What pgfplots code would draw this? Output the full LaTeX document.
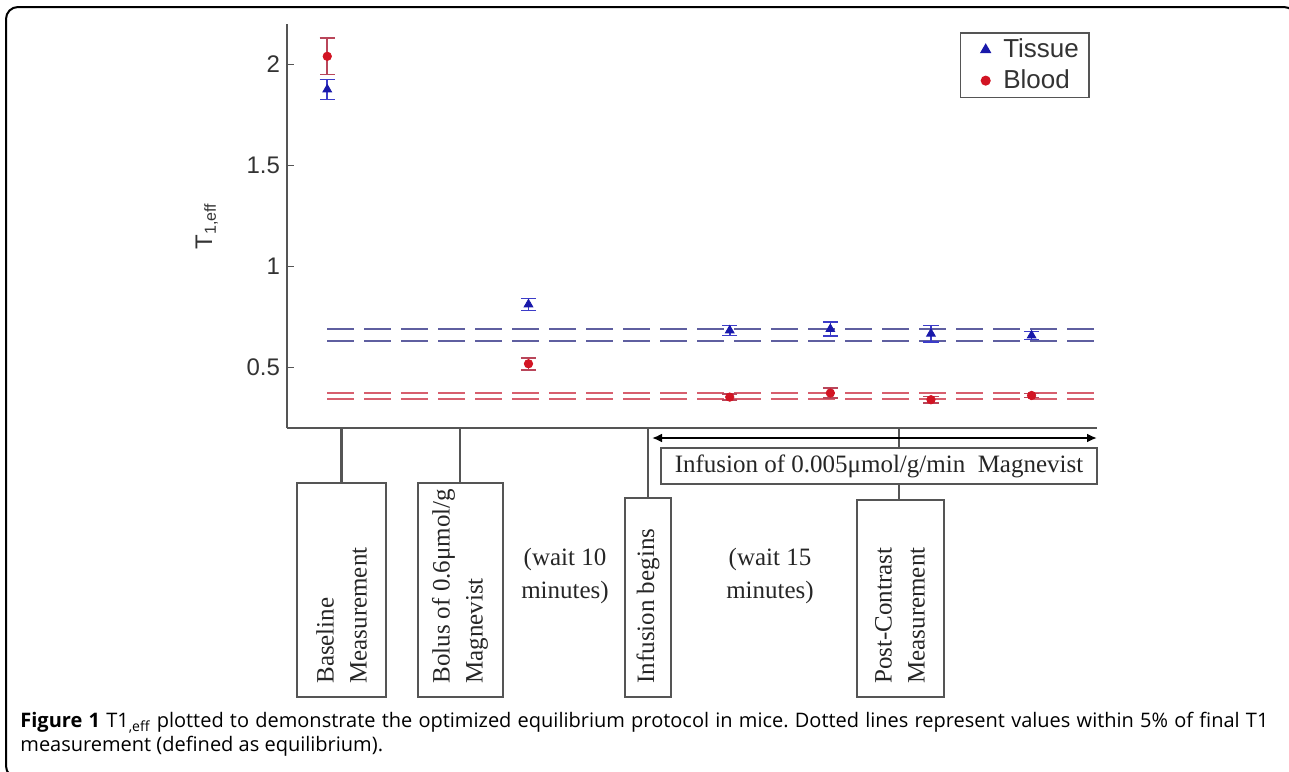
\documentclass[border=0pt]{standalone}
\usepackage{fontspec}
\setmainfont{Liberation Serif}
\setsansfont{Liberation Sans}
\newfontfamily\capfont{Open Sans}
\usepackage{pgfplots}
\pgfplotsset{compat=1.18}
\usetikzlibrary{arrows.meta}
\definecolor{tblue}{RGB}{25,25,170}
\definecolor{tebar}{RGB}{60,60,200}
\definecolor{bred}{RGB}{210,20,35}
\definecolor{bebar}{RGB}{185,70,90}
\definecolor{dblue}{RGB}{95,95,160}
\definecolor{dred}{RGB}{215,95,110}
\definecolor{axgray}{RGB}{85,85,85}
\begin{document}
\frenchspacing
\begin{tikzpicture}
\begin{scope}[x=0.5pt,y=-0.5pt]
\useasboundingbox (0,0) rectangle (1289,771);
\begin{scope}
\clip (0,0) rectangle (1289,771);
\draw[line width=1pt, rounded corners=6pt] (1296,19) -- (1296,7) -- (6,7) -- (6,778) -- (20,778);
\end{scope}
% connectors
\draw[axgray, line width=1.1pt] (341.5,428) -- (341.5,483);
\draw[axgray, line width=1.1pt] (460,428) -- (460,483);
\draw[axgray, line width=1.1pt] (648,428) -- (648,498);
\draw[axgray, line width=1.1pt] (899,428) -- (899,500);
% boxes
\draw[axgray, line width=1.1pt, fill=white] (297,483) rectangle (386,697);
\draw[axgray, line width=1.1pt, fill=white] (418,483) rectangle (503,697);
\draw[axgray, line width=1.1pt, fill=white] (625,498) rectangle (671,697);
\draw[axgray, line width=1.1pt, fill=white] (857,500) rectangle (944,697);
\draw[axgray, line width=1.1pt, fill=white] (661,448) rectangle (1097,484);
\draw[black, line width=1.4pt, {Latex[length=5pt,width=4.5pt]}-{Latex[length=5pt,width=4.5pt]}] (652,438) -- (1097,438);
% texts
\tikzset{dtext/.style={inner sep=0pt, font=\fontsize{12.5}{16.5}\selectfont, text=black!85}}
\node[dtext, rotate=90, anchor=west, align=left] at (341.5,684) {Baseline\\Measurement};
\node[dtext, rotate=90, anchor=west, align=left] at (460,684) {Bolus of 0.6μmol/g\\Magnevist};
\node[dtext, rotate=90, anchor=west, align=left] at (648,684) {Infusion begins};
\node[dtext, rotate=90, anchor=west, align=left] at (900,684) {Post-Contrast\\Measurement};
\node[dtext, align=center] at (565,576) {(wait 10\\minutes)};
\node[dtext, align=center] at (770,576) {(wait 15\\minutes)};
\node[dtext] at (879,466) {Infusion of 0.005μmol/g/min\ \ Magnevist};
% caption
\node[anchor=north west, inner sep=0pt, text width=624pt, align=justify, font=\capfont\fontsize{10}{12}\selectfont] at (20,712)
{\textbf{Figure 1} T1\textsubscript{,eff} plotted to demonstrate the optimized equilibrium protocol in mice. Dotted lines represent values within 5\% of final T1\linebreak measurement (defined as equilibrium).};
\end{scope}
\begin{axis}[
  scale only axis, width=405pt, height=202pt,
  at={(143.5pt,-214pt)}, anchor=south west,
  xmin=0.6, xmax=8.65, ymin=0.2, ymax=2.2,
  axis lines=left, axis line style={-, axgray, line width=1.2pt},
  xtick=\empty,
  ytick={0.5,1,1.5,2}, yticklabels={0.5,1,1.5,2},
  tick align=inside, major tick length=3.5pt, tick style={axgray, line width=0.8pt},
  yticklabel style={font=\sffamily\fontsize{12}{14}\selectfont, text=black!80},
  ylabel={T\textsubscript{1,eff}},
  ylabel style={at={(axis description cs:-0.099,0.5)}, anchor=center, font=\sffamily\fontsize{12}{14}\selectfont, text=black!80},
  clip=false,
  legend style={at={(0.991,0.980)}, anchor=north east, draw=axgray, line width=0.8pt,
    font=\sffamily\fontsize{13}{14}\selectfont, text=black!80, inner xsep=3pt, inner ysep=2pt,
    row sep=2.5pt, nodes={inner ysep=1pt}},
  legend cell align=left,
  legend image code/.code={\path[draw=none,fill=none] (0,0) -- (16.3pt,0); \draw[#1] plot[only marks] coordinates {(9.5pt,0pt)};},
]
\addplot[dblue, line width=1pt, dash pattern=on 13.5pt off 5pt, forget plot] coordinates {(1,0.692) (8.65,0.692)};
\addplot[dblue, line width=1pt, dash pattern=on 13.5pt off 5pt, forget plot] coordinates {(1,0.630) (8.65,0.630)};
\addplot[dred, line width=1pt, dash pattern=on 13.5pt off 5pt, forget plot] coordinates {(1,0.373) (8.65,0.373)};
\addplot[dred, line width=1pt, dash pattern=on 13.5pt off 5pt, forget plot] coordinates {(1,0.345) (8.65,0.345)};
\addplot[only marks, mark=triangle*, mark size=2.5pt, color=tblue,
  error bars/.cd, y dir=both, y explicit,
  error bar style={tebar, line width=0.8pt},
  error mark options={rotate=90, tebar, mark size=3.8pt, line width=0.8pt}]
coordinates {
(1,1.876) +- (0,0.05)
(3,0.812) +- (0,0.03)
(5,0.683) +- (0,0.025)
(6,0.690) +- (0,0.035)
(7,0.667) +- (0,0.04)
(8,0.658) +- (0,0.02)
};
\addlegendentry{Tissue}
\addplot[only marks, mark=*, mark size=2.1pt, color=bred,
  error bars/.cd, y dir=both, y explicit,
  error bar style={bebar, line width=0.8pt},
  error mark options={rotate=90, bebar, mark size=3.8pt, line width=0.8pt}]
coordinates {
(1,2.040) +- (0,0.09)
(3,0.518) +- (0,0.03)
(5,0.353) +- (0,0.015)
(6,0.373) +- (0,0.025)
(7,0.340) +- (0,0.015)
(8,0.361) +- (0,0.01)
};
\addlegendentry{Blood}
\end{axis}
\end{tikzpicture}
\end{document}
